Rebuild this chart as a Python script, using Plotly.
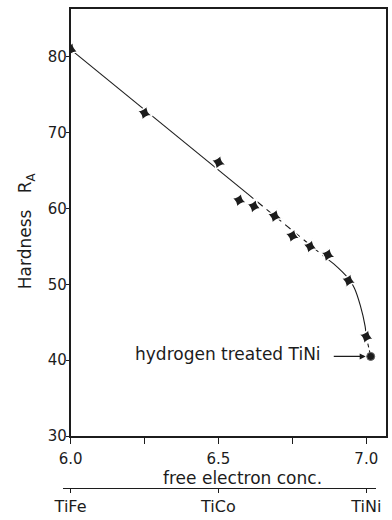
import plotly.graph_objects as go

# ---- data ----
# measured hardness points (free electron concentration, Hardness R_A)
conc = [6.0, 6.25, 6.50, 6.57, 6.62, 6.69, 6.75, 6.81, 6.87, 6.94, 7.0]
hardness = [81.0, 72.6, 66.1, 61.1, 60.3, 59.0, 56.4, 55.0, 53.9, 50.5, 43.1]

# hydrogen treated TiNi
h_conc = [7.015]
h_hard = [40.5]

# hand-drawn trend curve pieces
trend1_x = [6.0, 6.60]
trend1_y = [81.0, 61.9]
trend2_x = [6.60, 6.86]
trend2_y = [61.9, 53.6]
trend3_x = [6.86, 6.89, 6.94, 6.96, 6.98, 6.996, 7.0]
trend3_y = [53.6, 52.7, 50.75, 49.5, 47.2, 44.5, 43.1]
trend4_x = [7.0, 7.015]
trend4_y = [43.1, 40.5]

# label position (data coords) for the hydrogen-treated note and its arrow tail
note_x = 6.855
note_y = 40.8
arrow_tail_x = 6.885

x_ticks = [6.0, 6.5, 7.0]
x_tick_text = ["6.0", "6.5", "7.0"]
x_minor_ticks = [6.25, 6.75]
y_ticks = [30, 40, 50, 60, 70, 80]
comp_ticks = [6.0, 6.5, 7.0]
comp_labels = ["TiFe", "TiCo", "TiNi"]

INK = "#1c1c1c"
FONT = "DejaVu Sans"

fig = go.Figure()

fig.add_trace(go.Scatter(x=trend1_x, y=trend1_y, mode="lines",
                         line=dict(color=INK, width=1.1), hoverinfo="skip"))
fig.add_trace(go.Scatter(x=trend2_x, y=trend2_y, mode="lines",
                         line=dict(color=INK, width=1.1, dash="7px,5px"),
                         hoverinfo="skip"))
fig.add_trace(go.Scatter(x=trend3_x, y=trend3_y, mode="lines",
                         line=dict(color=INK, width=1.1, shape="spline", smoothing=0.6),
                         hoverinfo="skip"))
fig.add_trace(go.Scatter(x=trend4_x, y=trend4_y, mode="lines",
                         line=dict(color=INK, width=1.1, dash="4px,3px"),
                         hoverinfo="skip"))

fig.add_trace(go.Scatter(
    x=conc, y=hardness, mode="markers",
    marker=dict(symbol="star-diamond", size=12, angle=18, color=INK,
                line=dict(color="white", width=1.5)),
    name="Hardness"))

fig.add_trace(go.Scatter(
    x=h_conc, y=h_hard, mode="markers",
    marker=dict(symbol="circle", size=8, color=INK,
                line=dict(color="#666666", width=1)),
    name="hydrogen treated TiNi"))

# invisible trace carrying the compound axis
fig.add_trace(go.Scatter(x=comp_ticks, y=[30, 30, 30], xaxis="x2", yaxis="y",
                         mode="markers", marker=dict(opacity=0),
                         hoverinfo="skip", showlegend=False))

fig.update_layout(
    width=392, height=520,
    margin=dict(l=40, r=1, t=9, b=32),
    paper_bgcolor="white", plot_bgcolor="rgba(0,0,0,0)",
    showlegend=False,
    font=dict(family=FONT, color=INK),
    xaxis=dict(domain=[31 / 351, 1], range=[6.0, 7.0667], anchor="y",
               tickvals=x_ticks, ticktext=x_tick_text,
               ticks="outside", ticklen=6, tickwidth=1, tickcolor=INK,
               minor=dict(tickvals=x_minor_ticks, ticks="outside", ticklen=6,
                          tickwidth=1, tickcolor=INK, showgrid=False),
               showline=True, linewidth=1.6, linecolor=INK, mirror=True,
               showgrid=False, zeroline=False,
               tickfont=dict(size=15, family=FONT, color=INK),
               ticklabelstandoff=2),
    yaxis=dict(domain=[52 / 479, 1], range=[30, 86.33], anchor="x",
               tickvals=y_ticks,
               ticks="outside", ticklen=3, tickwidth=1, tickcolor=INK,
               showline=True, linewidth=1.6, linecolor=INK, mirror=True,
               showgrid=False, zeroline=False,
               tickfont=dict(size=15, family=FONT, color=INK),
               ticklabelstandoff=-4),
    xaxis2=dict(domain=[23 / 351, 341 / 351], range=[5.9733, 7.0333],
                anchor="free", position=0,
                tickvals=comp_ticks, ticktext=comp_labels,
                ticks="outside", ticklen=4, tickwidth=1, tickcolor=INK,
                showline=True, linewidth=1.2, linecolor=INK,
                showgrid=False, zeroline=False,
                tickfont=dict(size=16, family=FONT, color=INK),
                ticklabelstandoff=0),
    annotations=[
        dict(text="Hardness   R<sub>A</sub>", textangle=-90,
             xref="paper", yref="paper", x=(27 - 40) / 351, y=(488 - 231) / 479,
             xanchor="center", yanchor="middle", showarrow=False,
             font=dict(size=17, family=FONT, color=INK)),
        dict(text="free electron conc.",
             xref="paper", yref="paper", x=(245 - 40) / 351, y=(488 - 478) / 479,
             xanchor="center", yanchor="middle", showarrow=False,
             font=dict(size=17, family=FONT, color=INK)),
        dict(text="hydrogen treated TiNi", x=note_x, y=note_y,
             xref="x", yref="y", xanchor="right", yanchor="middle",
             showarrow=False, font=dict(size=17, family=FONT, color=INK)),
        dict(text="", x=h_conc[0], y=h_hard[0], xref="x", yref="y",
             ax=arrow_tail_x, ay=h_hard[0], axref="x", ayref="y",
             showarrow=True, arrowhead=2, arrowsize=1, arrowwidth=1.2,
             arrowcolor=INK, standoff=5),
    ],
)

fig.write_html("out.html")
